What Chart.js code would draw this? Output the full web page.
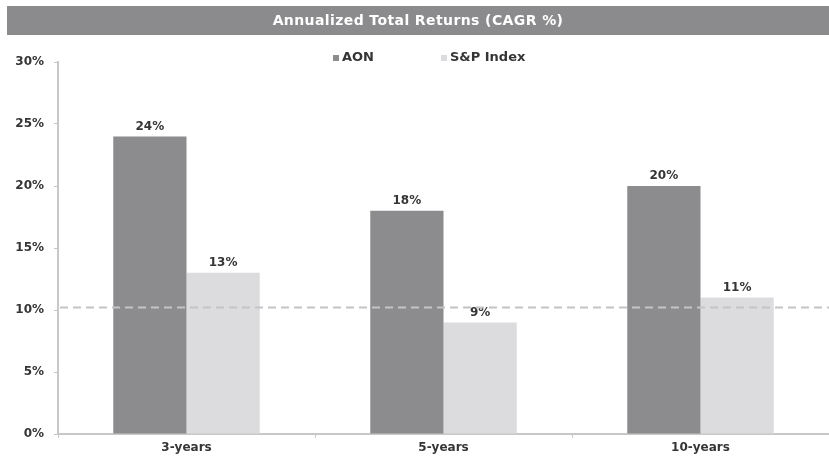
<!DOCTYPE html>
<html>
<head>
<meta charset="utf-8">
<script src="https://cdn.jsdelivr.net/npm/chart.js"></script>
<style>
  html, body { margin: 0; padding: 0; background: #fff; }
  #wrap { position: relative; width: 829px; height: 459px; }
</style>
</head>
<body>
<div id="wrap"><canvas id="chart" width="829" height="459"></canvas></div>
<script>
const categories = ['3-years', '5-years', '10-years'];
const aonValues = [24, 18, 20];
const spValues = [13, 9, 11];
const yTicks = [0, 5, 10, 15, 20, 25, 30];
const referenceLine = 10.2;
const chartTitle = 'Annualized Total Returns (CAGR %)';

const FONT = '"DejaVu Sans", Arial, sans-serif';
const textColor = '#353535';

// title bar, legend, value labels and the dashed reference line
const decorations = {
  id: 'decorations',
  beforeDraw(chart) {
    const ctx = chart.ctx;
    ctx.save();
    ctx.fillStyle = '#8b8b8d';
    ctx.fillRect(7, 6, chart.width - 7, 29);
    ctx.fillStyle = '#ffffff';
    ctx.font = 'bold 14px ' + FONT;
    ctx.letterSpacing = '0.4px';
    ctx.textAlign = 'center';
    ctx.textBaseline = 'middle';
    ctx.fillText(chartTitle, 418, 21);
    ctx.restore();
  },
  afterDatasetsDraw(chart) {
    const ctx = chart.ctx;
    const area = chart.chartArea;
    ctx.save();
    ctx.font = 'bold 12px ' + FONT;
    ctx.fillStyle = textColor;
    ctx.textAlign = 'center';
    ctx.textBaseline = 'bottom';
    chart.data.datasets.forEach((ds, i) => {
      chart.getDatasetMeta(i).data.forEach((bar, j) => {
        ctx.fillText(ds.data[j] + '%', bar.x, bar.y - 4);
      });
    });

    // legend
    const legendX = [333, 441];
    ctx.font = 'bold 13px ' + FONT;
    ctx.textAlign = 'left';
    ctx.textBaseline = 'middle';
    chart.data.datasets.forEach((ds, i) => {
      ctx.fillStyle = ds.backgroundColor;
      ctx.fillRect(legendX[i], 55, 6, 6);
      ctx.fillStyle = textColor;
      ctx.fillText(ds.label, legendX[i] + 9, 58);
    });

    // dashed reference line
    const y = chart.scales.y.getPixelForValue(referenceLine);
    ctx.strokeStyle = '#c4c4c6';
    ctx.lineWidth = 2;
    ctx.setLineDash([8, 5]);
    ctx.beginPath();
    ctx.moveTo(area.left + 2, y);
    ctx.lineTo(area.right, y);
    ctx.stroke();
    ctx.restore();
  }
};

new Chart(document.getElementById('chart'), {
  type: 'bar',
  data: {
    labels: categories,
    datasets: [
      { label: 'AON', data: aonValues, backgroundColor: '#8c8c8e', barPercentage: 1, categoryPercentage: 0.57 },
      { label: 'S&P Index', data: spValues, backgroundColor: '#dcdcde', barPercentage: 1, categoryPercentage: 0.57 }
    ]
  },
  options: {
    responsive: false,
    animation: false,
    layout: { padding: { top: 62, left: 0, right: 0, bottom: 0 } },
    plugins: {
      legend: { display: false },
      title: { display: false },
      tooltip: { enabled: false }
    },
    scales: {
      x: {
        afterFit(scale) { scale.height = 25; },
        border: { color: '#c8c8ca', width: 2 },
        grid: { drawOnChartArea: false, tickLength: 4, color: '#c8c8ca' },
        ticks: { color: textColor, font: { family: FONT, size: 12, weight: 'bold' }, padding: 3 }
      },
      y: {
        min: 0,
        max: 30,
        afterFit(scale) { scale.width = 58; },
        afterBuildTicks(scale) { scale.ticks = yTicks.map(v => ({ value: v })); },
        border: { color: '#c8c8ca', width: 2 },
        grid: { drawOnChartArea: false, tickLength: 4, color: '#c8c8ca' },
        ticks: {
          color: textColor,
          font: { family: FONT, size: 12, weight: 'bold' },
          padding: 10,
          callback: v => v + '%'
        }
      }
    }
  },
  plugins: [decorations]
});
</script>
</body>
</html>
